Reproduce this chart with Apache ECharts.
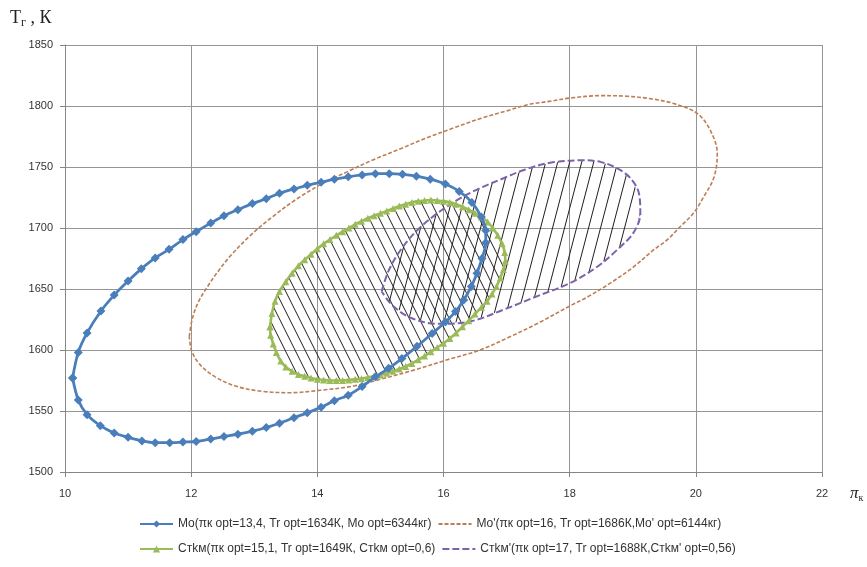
<!DOCTYPE html>
<html>
<head>
<meta charset="utf-8">
<script src="https://cdn.jsdelivr.net/npm/echarts@6/dist/echarts.min.js"></script>
<style>
  html, body { margin: 0; padding: 0; background: #fff; }
  #chart { width: 867px; height: 567px; }
</style>
</head>
<body>
<div id="chart"></div>
<script>
// Axis ranges
const xMin = 10, xMax = 22, xStep = 2;
const yMin = 1500, yMax = 1850, yStep = 50;

// Series names
const nameMo = 'Mo(πк opt=13,4, Tr opt=1634К, Mo opt=6344кг)';
const nameMoP = "Mo'(πк opt=16, Tr opt=1686К,Mo' opt=6144кг)";
const nameSt = 'Стkм(πк opt=15,1, Tr opt=1649К, Стkм opt=0,6)';
const nameStP = "Стkм'(πк opt=17, Tr opt=1688К,Стkм' opt=0,56)";

// Mo contour (πк, Tг)
const moPoints = [
  [10.12,1577],[10.21,1598],[10.35,1614],[10.57,1632],[10.78,1645],[11.0,1656.5],[11.21,1666.5],
  [11.43,1675.5],[11.65,1682.5],[11.87,1690.5],[12.08,1697],[12.31,1704],[12.52,1710],[12.74,1715],
  [12.97,1720],[13.19,1724],[13.4,1728.5],[13.63,1732],[13.84,1735],[14.06,1737.5],[14.27,1740],
  [14.49,1742],[14.71,1743.5],[14.92,1744.5],[15.14,1744.5],[15.35,1744],[15.57,1742.5],[15.79,1740],
  [16.03,1736],[16.25,1730],[16.45,1721],[16.6,1709],[16.67,1698],[16.67,1688],[16.61,1675],
  [16.53,1663],[16.44,1652],[16.32,1641],[16.19,1631.5],[16.03,1623],[15.82,1613.5],[15.58,1603],
  [15.34,1593],[15.13,1585],[14.92,1578],[14.71,1570],[14.49,1563],[14.27,1558.5],[14.06,1553],
  [13.84,1548.5],[13.63,1544.5],[13.4,1540],[13.19,1536.5],[12.97,1533.5],[12.74,1531],[12.52,1529],
  [12.31,1527],[12.08,1525],[11.87,1524.5],[11.66,1524],[11.43,1524],[11.22,1525.5],[11.0,1528.5],
  [10.78,1532],[10.56,1538],[10.35,1547],[10.21,1559],[10.12,1577]
];

// Mo' contour
const moPrimePoints = [
  [11.97,1611],[12.02,1626],[12.12,1640],[12.26,1652],[12.42,1664],[12.62,1677],[12.94,1694],
  [13.31,1710],[13.68,1724],[14.1,1737],[14.47,1746],[14.89,1756],[15.32,1765],[15.74,1774],
  [16.16,1782],[16.6,1790],[17.0,1796],[17.33,1801],[17.7,1804],[18.0,1806.5],[18.5,1808.5],
  [18.9,1808],[19.28,1806],[19.65,1802],[20.02,1794],[20.23,1780],[20.34,1761],[20.29,1742],
  [20.13,1726],[19.96,1712],[19.75,1701],[19.54,1690],[19.33,1682],[19.01,1668],[18.65,1655],
  [18.3,1644],[18.0,1636],[17.5,1622],[17.06,1611],[16.58,1600],[16.06,1592],[15.53,1583.5],
  [15.0,1576],[14.58,1570.5],[14.05,1567],[13.57,1565],[13.15,1566],[12.73,1570],[12.38,1578],
  [12.14,1588],[12.01,1599],[11.97,1611]
];

// Стkм contour
const stkmPoints = [
  [13.25,1619],[13.28,1630],[13.33,1640],[13.4,1648],[13.5,1656],[13.6,1663],[13.7,1669],[13.8,1674],
  [13.9,1678.5],[14.0,1683],[14.1,1687],[14.2,1690.5],[14.3,1694],[14.4,1697],[14.5,1700],[14.6,1703],
  [14.7,1705.5],[14.8,1708],[14.9,1710],[15.0,1712],[15.1,1714],[15.2,1716],[15.3,1718],[15.4,1719.5],
  [15.5,1721],[15.6,1722],[15.7,1722.5],[15.8,1723],[15.9,1722.5],[16.0,1722],[16.1,1721],[16.2,1719.5],
  [16.3,1717.5],[16.4,1715],[16.5,1712],[16.6,1709],[16.7,1705],[16.78,1700],[16.86,1694],[16.93,1687],
  [16.97,1680],[16.98,1673],[16.95,1666],[16.9,1659],[16.84,1652],[16.77,1646],[16.69,1640],[16.6,1635],
  [16.5,1629.5],[16.4,1624],[16.3,1619],[16.2,1614],[16.1,1609.5],[16.0,1605.5],[15.9,1602],[15.8,1598.5],
  [15.7,1595],[15.6,1592],[15.5,1589],[15.4,1586.5],[15.3,1584.5],[15.2,1582.5],[15.1,1581],[15.0,1579.5],
  [14.9,1578.5],[14.8,1577.5],[14.7,1576.5],[14.6,1576],[14.5,1575.5],[14.4,1575],[14.3,1575],[14.2,1575],
  [14.1,1575.5],[14.0,1576],[13.9,1577],[13.8,1578.5],[13.7,1580],[13.6,1582.5],[13.5,1586],[13.42,1591],
  [13.35,1598],[13.3,1605],[13.26,1612],[13.25,1619]
];

// Стkм' contour
const stkmPrimePoints = [
  [15.02,1648],[15.13,1665],[15.32,1682],[15.58,1698],[15.9,1712],[16.22,1723],[16.53,1731.5],
  [16.96,1741],[17.3,1748],[17.69,1753.5],[18.22,1755.5],[18.5,1754],[18.75,1749],[18.96,1741],
  [19.1,1728],[19.12,1712],[19.01,1696],[18.75,1682],[18.43,1668],[18.01,1655],[17.48,1644],
  [16.95,1633],[16.43,1623.5],[15.9,1621.5],[15.5,1626],[15.2,1636],[15.02,1648]
];

// Hatch tiles: one diagonal per tile, repeated over the region
function makeHatch(w, h, rising) {
  const c = document.createElement('canvas');
  c.width = w; c.height = h;
  const g = c.getContext('2d');
  g.strokeStyle = '#1e1e1e';
  g.lineWidth = 1;
  g.beginPath();
  for (const dx of [-w, 0, w]) {
    if (rising) { g.moveTo(dx, h); g.lineTo(dx + w, 0); }
    else { g.moveTo(dx, 0); g.lineTo(dx + w, h); }
  }
  g.stroke();
  return c;
}
const hatchBack = makeHatch(10, 20, false);
const hatchFwd = makeHatch(12, 46, true);

function hatchSeries(points, tile) {
  return {
    type: 'custom',
    coordinateSystem: 'cartesian2d',
    silent: true,
    z: 1,
    data: [points[0]],
    renderItem: function (params, api) {
      return {
        type: 'polygon',
        shape: { points: points.map(p => api.coord(p)) },
        style: { fill: { image: tile, repeat: 'repeat' }, stroke: null }
      };
    }
  };
}

const chart = echarts.init(document.getElementById('chart'), null, { renderer: 'canvas' });

const uiFont = 'Liberation Sans, Arial, sans-serif';
const axisText = { color: '#333', fontSize: 11, fontFamily: uiFont };
const legendText = { fontSize: 12, color: '#333', fontFamily: uiFont };

chart.setOption({
  animation: false,
  backgroundColor: '#fff',
  grid: { left: 65, right: 45, top: 45, bottom: 95, containLabel: false },
  xAxis: {
    type: 'value', min: xMin, max: xMax, interval: xStep,
    axisLine: { show: true, onZero: false, lineStyle: { color: '#868686', width: 1 } },
    axisTick: { show: true, inside: false, length: 5, lineStyle: { color: '#868686' } },
    axisLabel: Object.assign({ margin: 16, formatter: v => String(v) }, axisText),
    splitLine: { show: true, lineStyle: { color: '#959595', width: 1 } }
  },
  yAxis: {
    type: 'value', min: yMin, max: yMax, interval: yStep,
    axisLine: { show: true, onZero: false, lineStyle: { color: '#868686', width: 1 } },
    axisTick: { show: true, inside: false, length: 5, lineStyle: { color: '#868686' } },
    axisLabel: Object.assign({ margin: 12, formatter: v => String(v) }, axisText),
    splitLine: { show: true, lineStyle: { color: '#959595', width: 1 } }
  },
  legend: [
    {
      data: [nameMo, { name: nameMoP, itemStyle: { opacity: 0 } }],
      left: 134, top: 513, itemWidth: 33, itemHeight: 9, itemGap: 6,
      textStyle: legendText
    },
    {
      data: [nameSt, { name: nameStP, itemStyle: { opacity: 0 } }],
      left: 134, top: 538, itemWidth: 33, itemHeight: 9, itemGap: 6,
      textStyle: legendText
    }
  ],
  graphic: [
    {
      type: 'text', left: 10, top: 9,
      style: {
        text: '{a|T}{s|г}{a| , К}',
        rich: {
          a: { fontSize: 18, fontFamily: 'Liberation Serif, serif', fill: '#222' },
          s: { fontSize: 12, fontFamily: 'Liberation Serif, serif', fill: '#222', padding: [10, 0, 0, 0] }
        }
      }
    },
    {
      type: 'text', left: 850, top: 485,
      style: {
        text: '{a|π}{s|к}',
        rich: {
          a: { fontSize: 17, fontFamily: 'Liberation Serif, serif', fontStyle: 'italic', fill: '#222' },
          s: { fontSize: 10, fontFamily: 'Liberation Serif, serif', fill: '#222', padding: [9, 0, 0, 0] }
        }
      }
    }
  ],
  series: [
    hatchSeries(stkmPoints, hatchBack),
    hatchSeries(stkmPrimePoints, hatchFwd),
    {
      name: nameMoP, type: 'line', data: moPrimePoints, smooth: 0.35, showSymbol: false, symbol: 'none', z: 3,
      lineStyle: { color: '#bd7d55', width: 1.6, type: [4, 2] },
      itemStyle: { color: '#bd7d55' }
    },
    {
      name: nameStP, type: 'line', data: stkmPrimePoints, smooth: 0.35, showSymbol: false, symbol: 'none', z: 4,
      lineStyle: { color: '#7c63a8', width: 2, type: [7, 3] },
      itemStyle: { color: '#7c63a8' }
    },
    {
      name: nameSt, type: 'line', data: stkmPoints, smooth: 0.3, symbol: 'triangle', symbolSize: 7, z: 5,
      lineStyle: { color: '#9bbb59', width: 2.6 },
      itemStyle: { color: '#9bbb59' }
    },
    {
      name: nameMo, type: 'line', data: moPoints, smooth: 0.3, symbol: 'diamond', symbolSize: 9, z: 6,
      lineStyle: { color: '#4a7ebb', width: 2.8 },
      itemStyle: { color: '#4a7ebb' }
    }
  ]
});
</script>
</body>
</html>
